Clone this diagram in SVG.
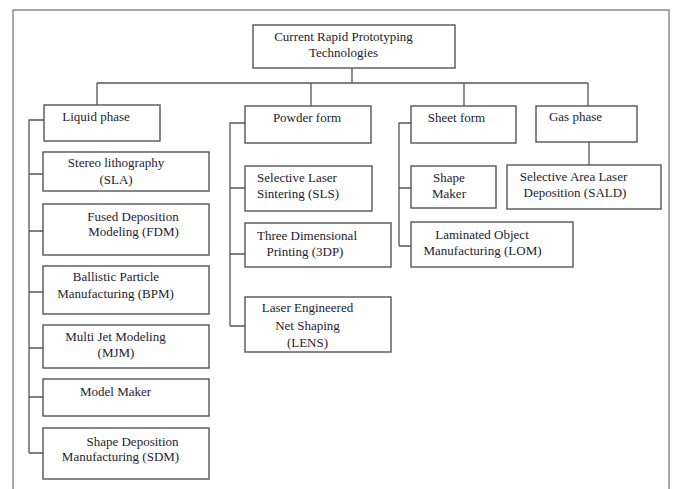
<svg xmlns="http://www.w3.org/2000/svg" width="673" height="489" viewBox="0 0 673 489">
<style>
.box{fill:#fff;stroke:#555;stroke-width:1.4}
.ln{fill:none;stroke:#555;stroke-width:1.3}
.frame{fill:none;stroke:#888;stroke-width:1.4}
text{font-family:"Liberation Serif","Times New Roman",serif;font-size:13px;fill:#1c1c30;text-anchor:middle}
</style>
<rect width="673" height="489" fill="#fff"/>
<path class="frame" d="M13,495 V10 H669 V495"/>
<g id="connectors">
<path class="ln" d="M352,68 V83 M97,83 H588 M97,83 V105 M311,83 V106 M464,83 V106 M588,83 V106"/>
<path class="ln" d="M44,120 H29 V453 M29,174 H43 M29,231 H43 M29,292 H43 M29,348 H43 M29,397 H43 M29,453 H43"/>
<path class="ln" d="M245,123 H230 V326 M230,188 H245 M230,254 H245 M230,326 H245"/>
<path class="ln" d="M411,123 H399 V246 M399,188 H411 M399,246 H411"/>
<path class="ln" d="M589,142 V165"/>
</g>
<g id="root"><rect class="box" x="253" y="25" width="202" height="43"/><text x="343.5" y="41">Current Rapid Prototyping</text><text x="343.5" y="57">Technologies</text></g>
<g id="liquid"><rect class="box" x="44" y="105" width="116" height="36"/><text x="96" y="121">Liquid phase</text></g>
<g id="powder"><rect class="box" x="245" y="106" width="126" height="37"/><text x="307" y="122">Powder form</text></g>
<g id="sheet"><rect class="box" x="411" y="106" width="105" height="37"/><text x="456.5" y="122">Sheet form</text></g>
<g id="gas"><rect class="box" x="536" y="106" width="101" height="36"/><text x="575.5" y="121">Gas phase</text></g>
<g id="sla"><rect class="box" x="43" y="152" width="166" height="39"/><text x="116" y="167">Stereo lithography</text><text x="116" y="184">(SLA)</text></g>
<g id="fdm"><rect class="box" x="43" y="204" width="166" height="51"/><text x="133" y="221">Fused Deposition</text><text x="133.5" y="236">Modeling (FDM)</text></g>
<g id="bpm"><rect class="box" x="43" y="266" width="166" height="48"/><text x="116" y="281">Ballistic Particle</text><text x="115.5" y="298">Manufacturing (BPM)</text></g>
<g id="mjm"><rect class="box" x="43" y="325" width="166" height="43"/><text x="115.5" y="341">Multi Jet Modeling</text><text x="116" y="357">(MJM)</text></g>
<g id="modelmaker"><rect class="box" x="43" y="379" width="166" height="37"/><text x="115.5" y="396">Model Maker</text></g>
<g id="sdm"><rect class="box" x="43" y="428" width="166" height="51"/><text x="132.5" y="446">Shape Deposition</text><text x="120.5" y="461">Manufacturing (SDM)</text></g>
<g id="sls"><rect class="box" x="245" y="166" width="127" height="45"/><text x="297" y="182">Selective Laser</text><text x="298" y="198">Sintering (SLS)</text></g>
<g id="3dp"><rect class="box" x="245" y="223" width="146" height="44"/><text x="307" y="240">Three Dimensional</text><text x="305" y="256">Printing (3DP)</text></g>
<g id="lens"><rect class="box" x="245" y="297" width="146" height="55"/><text x="307.5" y="312">Laser Engineered</text><text x="307.5" y="330">Net Shaping</text><text x="307.5" y="347">(LENS)</text></g>
<g id="shapemaker"><rect class="box" x="411" y="166" width="85" height="42"/><text x="449" y="182">Shape</text><text x="449" y="198">Maker</text></g>
<g id="sald"><rect class="box" x="507" y="165" width="154" height="44"/><text x="573.5" y="181">Selective Area Laser</text><text x="575" y="197">Deposition (SALD)</text></g>
<g id="lom"><rect class="box" x="411" y="222" width="162" height="45"/><text x="482" y="239">Laminated Object</text><text x="482.5" y="255">Manufacturing (LOM)</text></g>
</svg>
